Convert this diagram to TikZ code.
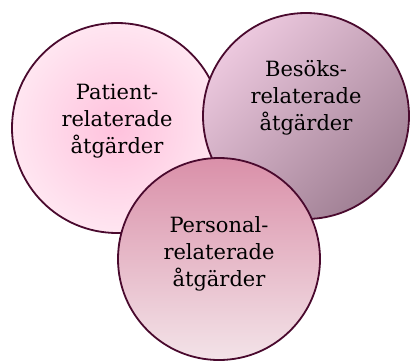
\documentclass[tikz,border=0pt]{standalone}
\usepackage{fontspec}
\setmainfont{DejaVu Serif}

\definecolor{rim}{HTML}{4A0A2E}
\definecolor{patin}{HTML}{FFC2DD}
\definecolor{patout}{HTML}{FFE6F1}
\definecolor{beslight}{HTML}{ECC8DE}
\definecolor{besdark}{HTML}{A08094}
\definecolor{pertop}{HTML}{DA90A9}
\definecolor{perbot}{HTML}{F3E3E8}

\begin{document}
\begin{tikzpicture}[
                    x=1pt, y=1pt,
                    bubble/.style={
                        circle,
                        draw=rim,
                        line width=1.8pt
                    },
                    caption/.style={
                        align=center,
                        inner sep=0pt,
                        font=\fontsize{21}{27}\selectfont
                    }
                ]
                    \useasboundingbox (0,0) rectangle (411,360);

                    \node[bubble, minimum size=210pt, inner color=patin, outer color=patout,
                          label={[caption, yshift=7pt]center:Patient-\\relaterade\\åtgärder}]
                          (patient) at (117,232) {};
                    \node[bubble, minimum size=206pt,
                          top color=beslight, bottom color=besdark, shading angle=45,
                          label={[caption, yshift=18pt]center:Besöks-\\relaterade\\åtgärder}]
                          (besok) at (306,244) {};
                    \node[bubble, minimum size=202pt, top color=pertop, bottom color=perbot,
                          label={[caption, yshift=5pt]center:Personal-\\relaterade\\åtgärder}]
                          (personal) at (219,101) {};
                \end{tikzpicture}
\end{document}
